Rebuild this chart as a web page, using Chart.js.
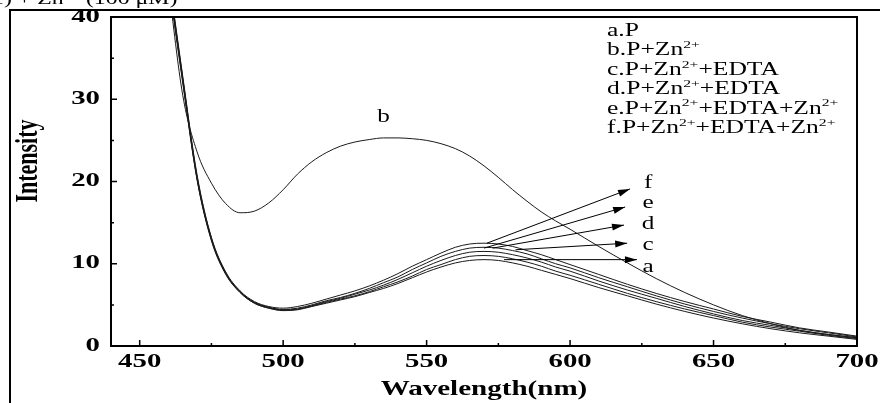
<!DOCTYPE html>
<html>
<head>
<meta charset="utf-8">
<script src="https://cdn.jsdelivr.net/npm/chart.js@4.4.0/dist/chart.umd.min.js"></script>
<style>
html, body { margin: 0; padding: 0; background: #fff; }
</style>
</head>
<body>
<canvas id="myChart" width="880" height="403"></canvas>
<script>
// wavelengths (nm) and intensity of each spectrum
const wavelengths = [450, 455, 460, 465, 470, 475, 480, 485, 490, 495, 500, 505, 510, 515, 520, 525, 530, 535, 540, 545, 550, 555, 560, 565, 570, 575, 580, 585, 590, 595, 600, 610, 620, 630, 640, 650, 660, 670, 680, 690, 700];
const curveA = [78, 58, 44.5, 32, 20.2, 12.8, 8.7, 6.5, 5.2, 4.6, 4.3, 4.4, 4.8, 5.2, 5.6, 6.0, 6.5, 7.0, 7.6, 8.3, 9.0, 9.6, 10.1, 10.4, 10.5, 10.4, 10.1, 9.7, 9.2, 8.7, 8.2, 7.1, 6.1, 5.1, 4.2, 3.4, 2.7, 2.1, 1.6, 1.2, 0.8];
const curveB = [76, 57, 43.8, 30.5, 23.6, 19.8, 17.3, 16.2, 16.4, 17.4, 19.0, 20.9, 22.4, 23.5, 24.3, 24.8, 25.1, 25.3, 25.3, 25.2, 25.0, 24.6, 24.0, 23.1, 21.9, 20.5, 19.0, 17.6, 16.3, 15.2, 14.2, 12.1, 10.1, 8.2, 6.5, 5.0, 3.7, 2.7, 1.9, 1.4, 1.0];
const curveC = [78.5, 58.3, 44.8, 32.2, 20.3, 12.9, 8.8, 6.5, 5.2, 4.6, 4.35, 4.45, 4.85, 5.3, 5.7, 6.1, 6.6, 7.2, 7.8, 8.5, 9.3, 9.9, 10.5, 10.9, 11.0, 10.9, 10.6, 10.2, 9.7, 9.1, 8.6, 7.5, 6.4, 5.4, 4.5, 3.7, 2.9, 2.3, 1.8, 1.3, 0.9];
const curveD = [79, 58.6, 45, 32.4, 20.4, 13.0, 8.8, 6.6, 5.3, 4.7, 4.4, 4.5, 4.9, 5.4, 5.8, 6.3, 6.8, 7.4, 8.1, 8.9, 9.7, 10.4, 11.0, 11.4, 11.5, 11.4, 11.1, 10.7, 10.2, 9.6, 9.1, 7.9, 6.8, 5.8, 4.8, 3.9, 3.1, 2.5, 1.9, 1.4, 1.0];
const curveE = [79.5, 59, 45.3, 32.6, 20.6, 13.1, 8.9, 6.6, 5.3, 4.7, 4.45, 4.6, 5.0, 5.5, 5.9, 6.4, 7.0, 7.7, 8.4, 9.3, 10.1, 10.9, 11.5, 11.9, 12.0, 11.9, 11.6, 11.2, 10.6, 10.0, 9.5, 8.3, 7.2, 6.1, 5.1, 4.2, 3.4, 2.7, 2.1, 1.6, 1.1];
const curveF = [80, 59.3, 45.5, 32.8, 20.8, 13.2, 9.0, 6.7, 5.4, 4.8, 4.6, 4.8, 5.2, 5.7, 6.2, 6.7, 7.3, 8.0, 8.8, 9.7, 10.5, 11.3, 12.0, 12.4, 12.5, 12.4, 12.1, 11.6, 11.1, 10.5, 9.9, 8.7, 7.5, 6.4, 5.4, 4.5, 3.6, 2.9, 2.2, 1.7, 1.2];

// axis ticks
const xTicks = [450, 500, 550, 600, 650, 700];
const xMinorTicks = [475, 525, 575, 625, 675];
const yTicks = [0, 10, 20, 30, 40];
const yMinorTicks = [5, 15, 25, 35];

// legend text (^{..} = superscript)
const legendLines = [
    'a.P',
    'b.P+Zn^{2+}',
    'c.P+Zn^{2+}+EDTA',
    'd.P+Zn^{2+}+EDTA',
    'e.P+Zn^{2+}+EDTA+Zn^{2+}',
    'f.P+Zn^{2+}+EDTA+Zn^{2+}'
];

// arrows pointing at the curves, in data units: [fromX, fromY, toX, toY, label, labelX, labelY]
const arrows = [
    [571, 12.5, 620.9, 19.1, 'f', 627.2, 19.8],
    [570, 11.9, 619.2, 16.9, 'e', 627.2, 17.3],
    [573, 11.9, 618.8, 14.7, 'd', 627.2, 14.8],
    [581, 11.7, 619.9, 12.5, 'c', 627.2, 12.2],
    [577, 10.5, 623.3, 10.5, 'a', 627.2, 9.6]
];

const SERIF = '"Liberation Serif", "Times New Roman", serif';

function toPoints(ys) {
    return wavelengths.map((x, i) => ({ x: x, y: ys[i] }));
}

// draw text stretched horizontally (the source picture is widened)
function wideText(ctx, str, x, y, font, sx, align) {
    ctx.font = font;
    let w = ctx.measureText(str).width * sx;
    let left = x;
    if (align === 'center') left = x - w / 2;
    if (align === 'right') left = x - w;
    ctx.save();
    ctx.translate(left, y);
    ctx.scale(sx, 1);
    ctx.textAlign = 'left';
    ctx.fillText(str, 0, 0);
    ctx.restore();
    return w;
}

// text with ^{..} superscripts
function richText(ctx, str, x, y, size, sx) {
    let parts = str.split(/\^\{([^}]*)\}/);
    let cx = x;
    parts.forEach((p, i) => {
        if (!p) return;
        if (i % 2 === 1) {
            cx += wideText(ctx, p, cx, y - size * 0.4, Math.round(size * 0.62) + 'px ' + SERIF, sx, 'left');
        } else {
            cx += wideText(ctx, p, cx, y, size + 'px ' + SERIF, sx, 'left');
        }
    });
}

const decorations = {
    id: 'decorations',
    afterDatasetsDraw(chart) {
        const ctx = chart.ctx;
        const xs = chart.scales.x, ys = chart.scales.y;
        const a = chart.chartArea;
        ctx.save();
        ctx.fillStyle = '#000';
        ctx.strokeStyle = '#000';
        ctx.textBaseline = 'alphabetic';

        // outer frame of the figure
        ctx.lineWidth = 2;
        ctx.beginPath();
        ctx.moveTo(10, 403);
        ctx.lineTo(10, 10);
        ctx.lineTo(880, 10);
        ctx.stroke();

        // clipped caption at the very top
        richText(ctx, '1) + Zn^{2+} (100 \u03bcM)', -8, 4, 17, 1.4);

        // plot frame
        ctx.lineWidth = 2;
        ctx.strokeRect(a.left, a.top, a.right - a.left, a.bottom - a.top);

        // inward ticks
        ctx.lineWidth = 1.5;
        ctx.beginPath();
        xTicks.forEach(v => {
            let px = xs.getPixelForValue(v);
            ctx.moveTo(px, a.bottom); ctx.lineTo(px, a.bottom - 6);
        });
        xMinorTicks.forEach(v => {
            let px = xs.getPixelForValue(v);
            ctx.moveTo(px, a.bottom); ctx.lineTo(px, a.bottom - 3);
        });
        yTicks.forEach(v => {
            let py = ys.getPixelForValue(v);
            ctx.moveTo(a.left, py); ctx.lineTo(a.left + 6, py);
        });
        yMinorTicks.forEach(v => {
            let py = ys.getPixelForValue(v);
            ctx.moveTo(a.left, py); ctx.lineTo(a.left + 3, py);
        });
        ctx.stroke();

        // tick labels
        ctx.textBaseline = 'middle';
        xTicks.forEach(v => {
            wideText(ctx, String(v), xs.getPixelForValue(v), a.bottom + 16, 'bold 18px ' + SERIF, 1.6, 'center');
        });
        yTicks.forEach(v => {
            wideText(ctx, String(v), a.left - 11, ys.getPixelForValue(v), 'bold 18px ' + SERIF, 1.6, 'right');
        });

        // axis titles
        wideText(ctx, 'Wavelength(nm)', (a.left + a.right) / 2, 389, 'bold 22px ' + SERIF, 1.32, 'center');
        ctx.save();
        ctx.translate(29, 161);
        ctx.scale(1.4, 1);
        ctx.rotate(-Math.PI / 2);
        ctx.textAlign = 'center';
        ctx.font = 'bold 22px ' + SERIF;
        ctx.fillText('Intensity', 0, 0);
        ctx.restore();

        // legend
        ctx.textBaseline = 'alphabetic';
        legendLines.forEach((t, i) => {
            richText(ctx, t, 607, 36 + i * 19.4, 18, 1.42);
        });

        // curve b label
        ctx.textBaseline = 'middle';
        wideText(ctx, 'b', xs.getPixelForValue(535), ys.getPixelForValue(27.8), '18px ' + SERIF, 1.4, 'center');

        // arrows
        ctx.lineWidth = 1;
        arrows.forEach(ar => {
            let x1 = xs.getPixelForValue(ar[0]), y1 = ys.getPixelForValue(ar[1]);
            let x2 = xs.getPixelForValue(ar[2]), y2 = ys.getPixelForValue(ar[3]);
            let ang = Math.atan2(y2 - y1, x2 - x1);
            ctx.beginPath();
            ctx.moveTo(x1, y1);
            ctx.lineTo(x2, y2);
            ctx.stroke();
            ctx.beginPath();
            ctx.moveTo(x2, y2);
            ctx.lineTo(x2 - 12 * Math.cos(ang) + 3.5 * Math.sin(ang), y2 - 12 * Math.sin(ang) - 3.5 * Math.cos(ang));
            ctx.lineTo(x2 - 12 * Math.cos(ang) - 3.5 * Math.sin(ang), y2 - 12 * Math.sin(ang) + 3.5 * Math.cos(ang));
            ctx.closePath();
            ctx.fill();
            wideText(ctx, ar[4], xs.getPixelForValue(ar[5]), ys.getPixelForValue(ar[6]), '18px ' + SERIF, 1.4, 'center');
        });
        ctx.restore();
    }
};

function series(label, ys) {
    return {
        label: label,
        data: toPoints(ys),
        borderColor: '#1a1a1a',
        borderWidth: 1,
        pointRadius: 0,
        cubicInterpolationMode: 'monotone',
        clip: 0
    };
}

new Chart(document.getElementById('myChart'), {
    type: 'line',
    data: {
        datasets: [
            series('a', curveA),
            series('b', curveB),
            series('c', curveC),
            series('d', curveD),
            series('e', curveE),
            series('f', curveF)
        ]
    },
    options: {
        responsive: false,
        animation: false,
        layout: { padding: { left: 111, top: 17, right: 23, bottom: 57 } },
        plugins: { legend: { display: false }, tooltip: { enabled: false } },
        scales: {
            x: { type: 'linear', min: 440, max: 700, display: false },
            y: { type: 'linear', min: 0, max: 40, display: false }
        }
    },
    plugins: [decorations]
});
</script>
</body>
</html>
